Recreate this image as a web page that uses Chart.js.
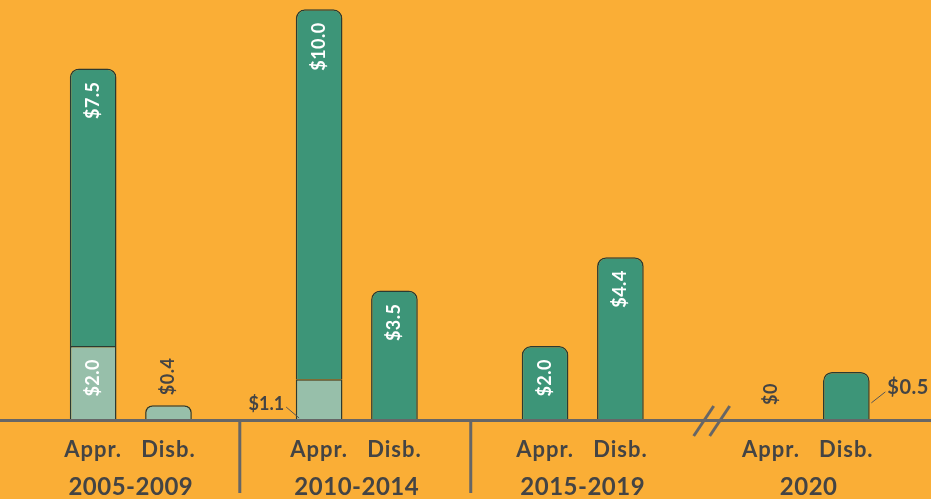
<!DOCTYPE html>
<html>
<head>
<meta charset="utf-8">
<script src="https://cdn.jsdelivr.net/npm/chart.js@4/dist/chart.umd.min.js"></script>
<style>
  html, body { margin: 0; padding: 0; background: #FAAE36; }
  #wrap { width: 931px; height: 499px; position: relative; }
</style>
</head>
<body>
<div id="wrap"><canvas id="fundingChart"></canvas></div>
<script>
// ====== DATA ======
const periods = ['2005-2009', '2010-2014', '2015-2019', '2020'];
const kinds = ['Appr.', 'Disb.'];
// one entry per bar: Appr./Disb. for each period
const lightValues = [2.0, 0.4, 1.1, null, null, null, null, null];
const darkValues = [7.5, null, 10.0, 3.5, 2.0, 4.4, null, 1.3];
const lightLabels = ['$2.0', '$0.4', '$1.1', null, null, null, null, null];
const darkLabels = ['$7.5', null, '$10.0', '$3.5', '$2.0', '$4.4', '$0', '$0.5'];

// ====== SLOTS (two bars + one gap per period) ======
const slotLabels = [];
const slotLight = [];
const slotDark = [];
const slotOfBar = [];
periods.forEach((p, g) => {
    kinds.forEach((k, j) => {
        const b = g * 2 + j;
        slotOfBar.push(slotLabels.length);
        slotLabels.push(k);
        slotLight.push(lightValues[b]);
        slotDark.push(darkValues[b]);
    });
    if (g < periods.length - 1) {
        slotLabels.push('');
        slotLight.push(null);
        slotDark.push(null);
    }
});

const TEXT = '#444444';
const LINE = '#666666';
const FONT = 'Lato, "Noto Sans", sans-serif';

function radiusFor(ctx) {
    const i = ctx.dataIndex;
    if (ctx.datasetIndex === 0 && slotDark[i] != null) return 0;
    return { topLeft: 9, topRight: 9, bottomLeft: 0, bottomRight: 0 };
}

// ====== DECORATION PLUGIN ======
const decorPlugin = {
    id: 'decor',
    beforeDraw(chart) {
        const ctx = chart.ctx;
        ctx.save();
        ctx.fillStyle = '#FAAE36';
        ctx.fillRect(0, 0, chart.width, chart.height);
        ctx.restore();
    },
    afterDatasetsDraw(chart) {
        const ctx = chart.ctx;
        const xs = chart.scales.x;
        const ys = chart.scales.y;
        const base = ys.getPixelForValue(0);
        const lightMeta = chart.getDatasetMeta(0);

        ctx.save();
        // baseline
        ctx.strokeStyle = LINE;
        ctx.lineWidth = 3;
        ctx.beginPath();
        ctx.moveTo(0, base + 0.5);
        ctx.lineTo(chart.width, base + 0.5);
        ctx.stroke();

        // dividers between the first periods
        [[2, -4], [5, 1]].forEach(([s, off]) => {
            const x = xs.getPixelForValue(s) + off;
            ctx.beginPath();
            ctx.moveTo(x, base);
            ctx.lineTo(x, base + 73);
            ctx.stroke();
        });

        // axis break before 2020
        const bx = xs.getPixelForValue(8);
        [8, 24].forEach(off => {
            ctx.beginPath();
            ctx.moveTo(bx + off - 10, base + 16);
            ctx.lineTo(bx + off + 10, base - 14);
            ctx.stroke();
        });

        // bar value labels
        ctx.textBaseline = 'middle';
        slotOfBar.forEach((s, b) => {
            const lt = lightMeta.data[s];
            const x = lt.x;
            const half = 23;

            if (lightLabels[b]) {
                const top = ys.getPixelForValue(lightValues[b]);
                const h = base - top;
                if (h > 50) {
                    drawVertical(ctx, lightLabels[b], x, top + 13, 'right', '#ffffff');
                } else if (darkValues[b] != null) {
                    // short segment under a tall bar: label on the left with a leader
                    ctx.font = 'bold 18px ' + FONT;
                    ctx.letterSpacing = '0px';
                    ctx.fillStyle = TEXT;
                    ctx.textAlign = 'right';
                    ctx.fillText(lightLabels[b], x - half - 12, base - 16);
                    leader(ctx, x - half - 10, base - 13, x - half + 3, base - 2);
                } else {
                    drawVertical(ctx, lightLabels[b], x, top - 10, 'left', TEXT);
                }
            }

            if (darkLabels[b]) {
                if (darkValues[b] == null) {
                    drawVertical(ctx, darkLabels[b], x, base - 15, 'left', TEXT);
                    return;
                }
                const top = ys.getPixelForValue((lightValues[b] || 0) + darkValues[b]);
                if (b === slotOfBar.length - 1) {
                    // last bar: label outside on the right
                    ctx.font = 'bold 20px ' + FONT;
                    ctx.letterSpacing = '0.5px';
                    ctx.fillStyle = TEXT;
                    ctx.textAlign = 'left';
                    ctx.fillText(darkLabels[b], x + half + 18, top + 16);
                    leader(ctx, x + half + 2, top + 31, x + half + 16, top + 20);
                } else {
                    drawVertical(ctx, darkLabels[b], x, top + 13, 'right', '#ffffff');
                }
            }
        });

        // category + period labels
        ctx.fillStyle = TEXT;
        ctx.textAlign = 'center';
        ctx.textBaseline = 'alphabetic';
        ctx.font = 'bold 22px ' + FONT;
        ctx.letterSpacing = '1px';
        slotOfBar.forEach((s, b) => {
            ctx.fillText(kinds[b % 2], xs.getPixelForValue(s), base + 37);
        });
        ctx.font = 'bold 24px ' + FONT;
        ctx.letterSpacing = '0.5px';
        periods.forEach((p, g) => {
            const x1 = xs.getPixelForValue(slotOfBar[g * 2]);
            const x2 = xs.getPixelForValue(slotOfBar[g * 2 + 1]);
            ctx.fillText(p, (x1 + x2) / 2, base + 75);
        });
        ctx.restore();
    }
};

function drawVertical(ctx, text, x, y, align, color) {
    ctx.save();
    ctx.translate(x, y);
    ctx.rotate(-Math.PI / 2);
    ctx.font = 'bold 18px ' + FONT;
    ctx.letterSpacing = '0.5px';
    ctx.fillStyle = color;
    ctx.textAlign = align;
    ctx.textBaseline = 'middle';
    ctx.fillText(text, 0, 0);
    ctx.restore();
}

function leader(ctx, x1, y1, x2, y2) {
    ctx.save();
    ctx.strokeStyle = '#555555';
    ctx.lineWidth = 1;
    ctx.beginPath();
    ctx.moveTo(x1, y1);
    ctx.lineTo(x2, y2);
    ctx.stroke();
    ctx.restore();
}

// ====== CHART ======
document.addEventListener('DOMContentLoaded', function () {
    const ctx = document.getElementById('fundingChart').getContext('2d');
    new Chart(ctx, {
        type: 'bar',
        data: {
            labels: slotLabels,
            datasets: [
                { label: 'light', data: slotLight, backgroundColor: '#97BFAA', borderColor: '#2c3a32',
                  borderWidth: 1.5, borderSkipped: 'bottom', borderRadius: radiusFor },
                { label: 'dark', data: slotDark, backgroundColor: '#3D9578', borderColor: '#2c3a32',
                  borderWidth: 1.5, borderSkipped: 'bottom', borderRadius: radiusFor }
            ]
        },
        options: {
            responsive: true,
            maintainAspectRatio: false,
            animation: false,
            layout: { padding: { left: 55.5, right: 47, top: 0, bottom: 79 } },
            plugins: { legend: { display: false }, tooltip: { enabled: false } },
            datasets: { bar: { categoryPercentage: 1, barPercentage: 0.62 } },
            scales: {
                x: { stacked: true, display: false },
                y: { stacked: true, display: false, min: 0, max: 11.35 }
            }
        },
        plugins: [decorPlugin]
    });
});
</script>
</body>
</html>
